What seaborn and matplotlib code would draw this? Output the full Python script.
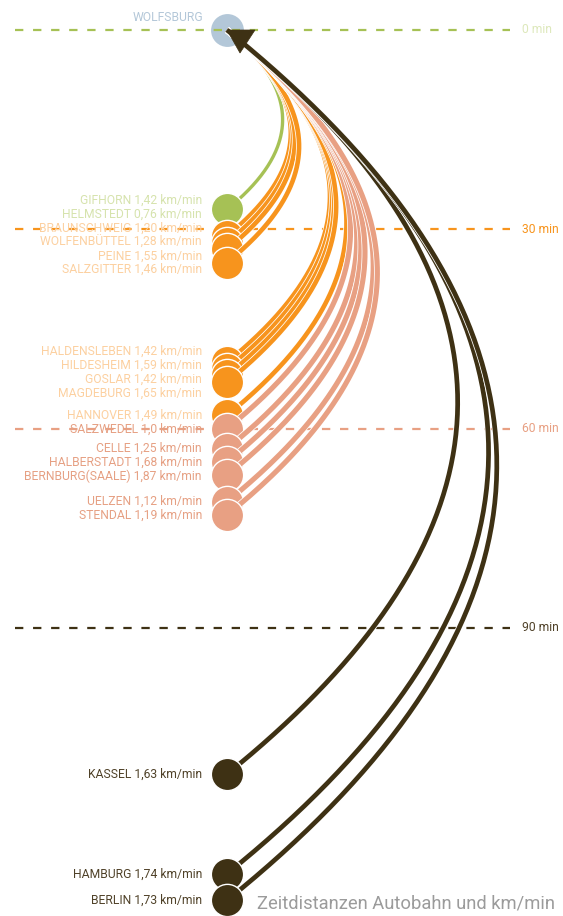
import numpy as np
import matplotlib.pyplot as plt
import matplotlib.patheffects as pe
from matplotlib.patches import Polygon
import seaborn as sns

# travel times from Wolfsburg (minutes) and average speed
cities = ['GIFHORN', 'HELMSTEDT', 'BRAUNSCHWEIG', 'WOLFENBÜTTEL', 'PEINE', 'SALZGITTER',
          'HALDENSLEBEN', 'HILDESHEIM', 'GOSLAR', 'MAGDEBURG', 'HANNOVER',
          'SALZWEDEL', 'CELLE', 'HALBERSTADT', 'BERNBURG(SAALE)', 'UELZEN', 'STENDAL',
          'KASSEL', 'HAMBURG', 'BERLIN']
minutes = [27, 27, 31, 32, 33, 35,
           50, 51, 52, 53, 58,
           60, 63, 65, 67, 71, 73,
           112, 127, 131]
speed = ['1,42', '0,76', '1,20', '1,28', '1,55', '1,46',
         '1,42', '1,59', '1,42', '1,65', '1,49',
         '1,0', '1,25', '1,68', '1,87', '1,12', '1,19',
         '1,63', '1,74', '1,73']
origin = 'WOLFSBURG'
bands = [0, 30, 60, 90]
band_labels = ['0 min', '30 min', '60 min', '90 min']

band_colors = ['#a6c155', '#f7941d', '#e8a083', '#3e3114']
label_colors = ['#d6e3ad', '#fcd0a0', '#e6a083', '#4f4128']
band_text = ['#dde8bb', '#f7941d', '#e8a083', '#4f4128']
arc_lw = [2.4, 3.3, 3.7, 3.4]

W, H = 563, 916
y0px, ppm = 30, 6.644          # pixel row of 0 min, pixels per minute
cx = 227                        # column of the circles
bend = 2 * 0.31 * ppm           # control point offset per minute

sns.set_style('white')
plt.rcParams['lines.scale_dashes'] = False
plt.rcParams['font.family'] = ['Roboto', 'DejaVu Sans']

fig = plt.figure(figsize=(W / 100, H / 100), dpi=100)
ax = fig.add_axes([0, 0, 1, 1])
ax.set_xlim(0, W)
ax.set_ylim((H - y0px) / ppm, -y0px / ppm)
ax.axis('off')


def spread(vals, gap):
    # push labels apart, keeping each crowded group centred on its points
    order = np.argsort(vals, kind='stable')
    blocks = []
    for i in order:
        blocks.append([i])
        while len(blocks) > 1:
            a, b = blocks[-2], blocks[-1]
            sa = np.mean([vals[j] - k * gap for k, j in enumerate(a)])
            sb = np.mean([vals[j] - k * gap for k, j in enumerate(b)])
            if sa + len(a) * gap > sb:
                blocks[-2:] = [a + b]
            else:
                break
    out = np.zeros(len(vals))
    for b in blocks:
        s = np.mean([vals[j] - k * gap for k, j in enumerate(b)])
        for k, j in enumerate(b):
            out[j] = s + k * gap
    return out


# origin
sns.scatterplot(x=[cx], y=[0], s=560, color='#b3c7d8', linewidth=0, zorder=1, ax=ax, legend=False)
ax.text(cx - 24, -1.95, origin, ha='right', va='center', fontsize=8.7, color='#b3c7d8')

# band lines
for b, lab, c, tc in zip(bands, band_labels, band_colors, band_text):
    ax.plot([15, 510], [b, b], color=c, lw=1.6, dashes=(6, 7), zorder=1.5)
    ax.text(522, b, lab, ha='left', va='center', fontsize=8.7, color=tc)

band_idx = [min(int(m // 30), 3) for m in minutes]
label_y = spread(minutes, 2.1)

u = np.linspace(0, 1, 150)[:, None]
z = 2
for name, m, sp, bi, ly in zip(cities, minutes, speed, band_idx, label_y):
    p0 = np.array([cx, m])
    p1 = np.array([cx + bend * m, m / 2])
    p2 = np.array([cx, 0])
    pts = (1 - u) ** 2 * p0 + 2 * u * (1 - u) * p1 + u ** 2 * p2
    lw = arc_lw[bi]
    ax.plot(pts[:, 0], pts[:, 1], color=band_colors[bi], lw=lw, solid_capstyle='butt',
            path_effects=[pe.Stroke(linewidth=lw + 1.1, foreground='white'), pe.Normal()],
            zorder=z)
    sns.scatterplot(x=[cx], y=[m], s=540, color=band_colors[bi], edgecolor='white',
                    linewidth=1, zorder=z + 1, ax=ax, legend=False)
    ax.text(cx - 25, ly, f'{name} {sp} km/min', ha='right', va='center',
            fontsize=8.7, color=label_colors[bi], zorder=50)
    z += 2

# arrow head at the origin
tri = Polygon([[cx, 0], [cx + 28, 0], [cx + 13, 23 / ppm]], closed=True,
              facecolor='#3e3114', edgecolor='#3e3114', lw=0.5, zorder=z + 1)
ax.add_patch(tri)

fig.text(555 / W, 4 / H, 'Zeitdistanzen Autobahn und km/min', ha='right', va='bottom',
         fontsize=13.2, color='#9b9b9b')

fig.savefig('out.png', dpi=100)
